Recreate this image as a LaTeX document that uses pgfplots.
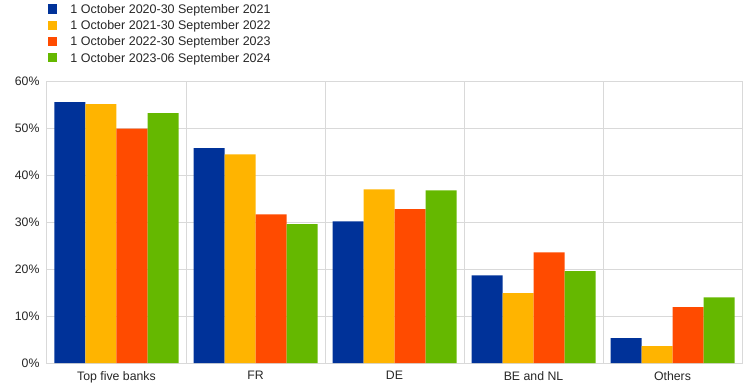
\documentclass[border=0pt]{standalone}
\usepackage{pgfplots}
\pgfplotsset{compat=1.18}
\usepackage{fontspec}
\setmainfont{Liberation Sans}
\definecolor{cblue}{HTML}{003299}
\definecolor{cyellow}{HTML}{FFB400}
\definecolor{cred}{HTML}{FF4B00}
\definecolor{cgreen}{HTML}{65B800}
\definecolor{cgrid}{HTML}{D9D9D9}
\begin{document}
\begin{tikzpicture}
\path[use as bounding box] (-47pt,-26pt) rectangle (698pt,363pt);
\begin{axis}[
  at={(0,0)}, anchor=south west,
  scale only axis, width=695pt, height=281.4pt,
  ymin=0, ymax=60, xmin=-0.5, xmax=4.5,
  ybar=0pt, bar width=31pt,
  xtick={0,1,2,3,4},
  xticklabels={Top five banks, FR, DE, BE and NL, Others},
  minor xtick={0.5,1.5,2.5,3.5},
  xminorgrids=true, xmajorgrids=false, ymajorgrids=true,
  ytick={0,10,20,30,40,50,60},
  yticklabel={\pgfmathprintnumber{\tick}\%},
  /pgf/number format/assume math mode=true,
  grid style={draw=cgrid, line width=1pt},
  minor grid style={draw=cgrid, line width=1pt},
  axis line style={draw=cgrid, line width=1pt},
  major tick length=0pt, minor tick length=0pt,
  tick label style={font=\fontsize{12.3}{14}\selectfont, text=black!85},
  yticklabel style={xshift=-4pt},
  xticklabel style={yshift=-5pt},
  legend style={at={(axis description cs:0.0014,1.274)}, anchor=north west,
    draw=none, fill=none, inner sep=0pt, outer sep=0pt,
    row sep=4.5pt, column sep=0pt,
    font=\fontsize{12.5}{14}\selectfont,
    nodes={inner sep=0pt, text height=9pt, text depth=2.5pt, text=black!85}},
  legend cell align=left,
  legend image code/.code={\fill[#1] (0pt,-3.6pt) rectangle (9.5pt,5.9pt); \path (22.5pt,0pt);},
]
\addplot[fill=cblue, draw=none] coordinates {(0,55.6) (1,45.8) (2,30.2) (3,18.7) (4,5.3)};
\addplot[fill=cyellow, draw=none] coordinates {(0,55.2) (1,44.5) (2,37.0) (3,14.9) (4,3.6)};
\addplot[fill=cred, draw=none] coordinates {(0,50.0) (1,31.7) (2,32.8) (3,23.6) (4,11.9)};
\addplot[fill=cgreen, draw=none] coordinates {(0,53.3) (1,29.6) (2,36.8) (3,19.6) (4,14.0)};
\legend{1 October 2020-30 September 2021, 1 October 2021-30 September 2022, 1 October 2022-30 September 2023, 1 October 2023-06 September 2024}
\end{axis}
\end{tikzpicture}
\end{document}
